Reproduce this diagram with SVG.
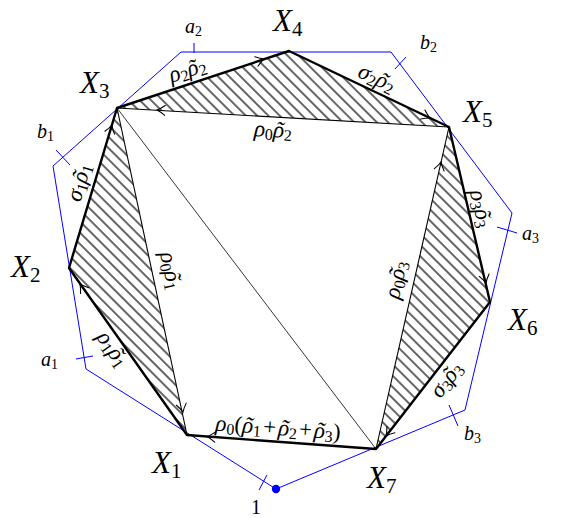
<svg xmlns="http://www.w3.org/2000/svg" xmlns:xlink="http://www.w3.org/1999/xlink" width="561" height="518" viewBox="0 0 561 518">
<style>
.blue{stroke:#0000ff;stroke-width:1;fill:none}
.thick{stroke:#000;stroke-width:2.4;fill:none;stroke-linecap:round;stroke-linejoin:round}
.thin{stroke:#000;stroke-width:1.1;fill:none}
.hair{stroke:#000;stroke-width:0.8;fill:none}
.ah{stroke:#000;stroke-width:1.1;fill:none;stroke-linecap:round}
.hatch{fill:url(#hatch);stroke:none}
text{font-family:"Liberation Serif","DejaVu Serif",serif;fill:#000}
.X{font-size:31px;font-style:italic}
.X .s{font-size:21px;font-style:normal}
.m{font-size:20px;font-style:italic}
.m .s{font-size:14px;font-style:normal}
.up{font-size:20px}
.e{font-size:23px;font-style:italic;text-anchor:middle}
.e .s{font-size:16px;font-style:normal}
.e .n{font-style:normal}
</style>
<defs>
<pattern id="hatch" patternUnits="userSpaceOnUse" width="8" height="8" patternTransform="rotate(-45)">
<line x1="4" y1="-1" x2="4" y2="9" stroke="#000" stroke-width="1.2"/>
</pattern>
<path id="ah" d="M-8,-5 Q-3,-1.2 0,0 Q-3,1.2 -8,5"/>
</defs>

<g id="boundary">
<polygon class="blue" points="276,489 86,369 53,166 181,52 391,52 512,213 465,410"/>
<line class="blue" x1="194" y1="43" x2="194" y2="53"/>
<line class="blue" x1="395" y1="69" x2="406" y2="57"/>
<line class="blue" x1="56" y1="150" x2="70" y2="165"/>
<line class="blue" x1="76" y1="359" x2="93" y2="356"/>
<line class="blue" x1="497" y1="227" x2="517" y2="233"/>
<line class="blue" x1="449" y1="405" x2="458" y2="426"/>
<line class="blue" x1="259" y1="490" x2="267" y2="475"/>
<circle cx="276" cy="489" r="4.2" fill="#0000ff"/>
<text class="m" x="185" y="33">a<tspan class="s" dy="3">2</tspan></text>
<text class="m" x="420" y="49">b<tspan class="s" dy="3">2</tspan></text>
<text class="m" x="37" y="138">b<tspan class="s" dy="3">1</tspan></text>
<text class="m" x="41" y="366">a<tspan class="s" dy="3">1</tspan></text>
<text class="m" x="522" y="240">a<tspan class="s" dy="3">3</tspan></text>
<text class="m" x="464" y="440">b<tspan class="s" dy="3">3</tspan></text>
<text class="up" x="251" y="514">1</text>
</g>

<g id="regions">
<polygon class="hatch" points="187,435 69,268 117,108"/>
<polygon class="hatch" points="117,108 289,51 449,127"/>
<polygon class="hatch" points="449,127 490,302 376,449"/>
</g>

<g id="connectors">
<line class="hair" x1="117" y1="108" x2="376" y2="449"/>
<line class="thin" x1="117" y1="108" x2="449" y2="127"/>
<line class="thin" x1="117" y1="108" x2="187" y2="435"/>
<line class="thin" x1="376" y1="449" x2="449" y2="127"/>
<polygon class="thick" points="187,435 69,268 117,108 289,51 449,127 490,302 376,449"/>
<g class="ah">
<use xlink:href="#ah" transform="translate(264,59) rotate(-18.3)"/>
<use xlink:href="#ah" transform="translate(430,118) rotate(25.4)"/>
<use xlink:href="#ah" transform="translate(157,110) rotate(183.3)"/>
<use xlink:href="#ah" transform="translate(112,125) rotate(-73.3)"/>
<use xlink:href="#ah" transform="translate(183,412) rotate(77.9)"/>
<use xlink:href="#ah" transform="translate(80,284) rotate(234.8)"/>
<use xlink:href="#ah" transform="translate(207,436.5) rotate(184.2)"/>
<use xlink:href="#ah" transform="translate(441,162) rotate(-77.2)"/>
<use xlink:href="#ah" transform="translate(486,283) rotate(76.8)"/>
<use xlink:href="#ah" transform="translate(386,436) rotate(127.8)"/>
</g>
<g id="edge-labels">
<text class="e" transform="translate(188,72) rotate(-18.3)" y="5">ρ<tspan class="s" dy="3">2</tspan><tspan dy="-3">ρ</tspan><tspan dx="-8.5">˜</tspan><tspan class="s" dx="0.8" dy="3">2</tspan></text>
<text class="e" transform="translate(376,80) rotate(25.4)" y="5">σ<tspan class="s" dy="3">2</tspan><tspan dy="-3">ρ</tspan><tspan dx="-8.5">˜</tspan><tspan class="s" dx="0.8" dy="3">2</tspan></text>
<text class="e" transform="translate(273,132) rotate(3.3)" y="5">ρ<tspan class="s" dy="3">0</tspan><tspan dy="-3">ρ</tspan><tspan dx="-8.5">˜</tspan><tspan class="s" dx="0.8" dy="3">2</tspan></text>
<text class="e" transform="translate(81,183) rotate(-73.3)" y="5">σ<tspan class="s" dy="3">1</tspan><tspan dy="-3">ρ</tspan><tspan dx="-8.5">˜</tspan><tspan class="s" dx="0.8" dy="3">1</tspan></text>
<text class="e" transform="translate(169,271) rotate(77.9)" y="5">ρ<tspan class="s" dy="3">0</tspan><tspan dy="-3">ρ</tspan><tspan dx="-8.5">˜</tspan><tspan class="s" dx="0.8" dy="3">1</tspan></text>
<text class="e" transform="translate(111,350) rotate(54.8)" y="5">ρ<tspan class="s" dy="3">1</tspan><tspan dy="-3">ρ</tspan><tspan dx="-8.5">˜</tspan><tspan class="s" dx="0.8" dy="3">1</tspan></text>
<text class="e" transform="translate(398,280) rotate(-77.2)" y="5">ρ<tspan class="s" dy="3">0</tspan><tspan dy="-3">ρ</tspan><tspan dx="-8.5">˜</tspan><tspan class="s" dx="0.8" dy="3">3</tspan></text>
<text class="e" transform="translate(479,209) rotate(76.8)" y="5">ρ<tspan class="s" dy="3">3</tspan><tspan dy="-3">ρ</tspan><tspan dx="-8.5">˜</tspan><tspan class="s" dx="0.8" dy="3">3</tspan></text>
<text class="e" transform="translate(448,381) rotate(-52.2)" y="5">σ<tspan class="s" dy="3">3</tspan><tspan dy="-3">ρ</tspan><tspan dx="-8.5">˜</tspan><tspan class="s" dx="0.8" dy="3">3</tspan></text>
<text class="e" transform="translate(278,430) rotate(4.2)" y="5">ρ<tspan class="s" dy="3">0</tspan><tspan class="n" dy="-3">(</tspan>ρ<tspan dx="-8.5">˜</tspan><tspan class="s" dx="0.8" dy="3">1</tspan><tspan class="n" dx="2" dy="-3">+</tspan><tspan dx="2">ρ</tspan><tspan dx="-8.5">˜</tspan><tspan class="s" dx="0.8" dy="3">2</tspan><tspan class="n" dx="2" dy="-3">+</tspan><tspan dx="2">ρ</tspan><tspan dx="-8.5">˜</tspan><tspan class="s" dx="0.8" dy="3">3</tspan><tspan class="n" dy="-3">)</tspan></text>
</g>
</g>

<g id="X1"><text class="X" x="152" y="473">X<tspan class="s" dy="5">1</tspan></text></g>
<g id="X2"><text class="X" x="11" y="277">X<tspan class="s" dy="5">2</tspan></text></g>
<g id="X3"><text class="X" x="80" y="93">X<tspan class="s" dy="5">3</tspan></text></g>
<g id="X4"><text class="X" x="273" y="31">X<tspan class="s" dy="5">4</tspan></text></g>
<g id="X5"><text class="X" x="463" y="122">X<tspan class="s" dy="5">5</tspan></text></g>
<g id="X6"><text class="X" x="508" y="330">X<tspan class="s" dy="5">6</tspan></text></g>
<g id="X7"><text class="X" x="367" y="488">X<tspan class="s" dy="5">7</tspan></text></g>
</svg>
